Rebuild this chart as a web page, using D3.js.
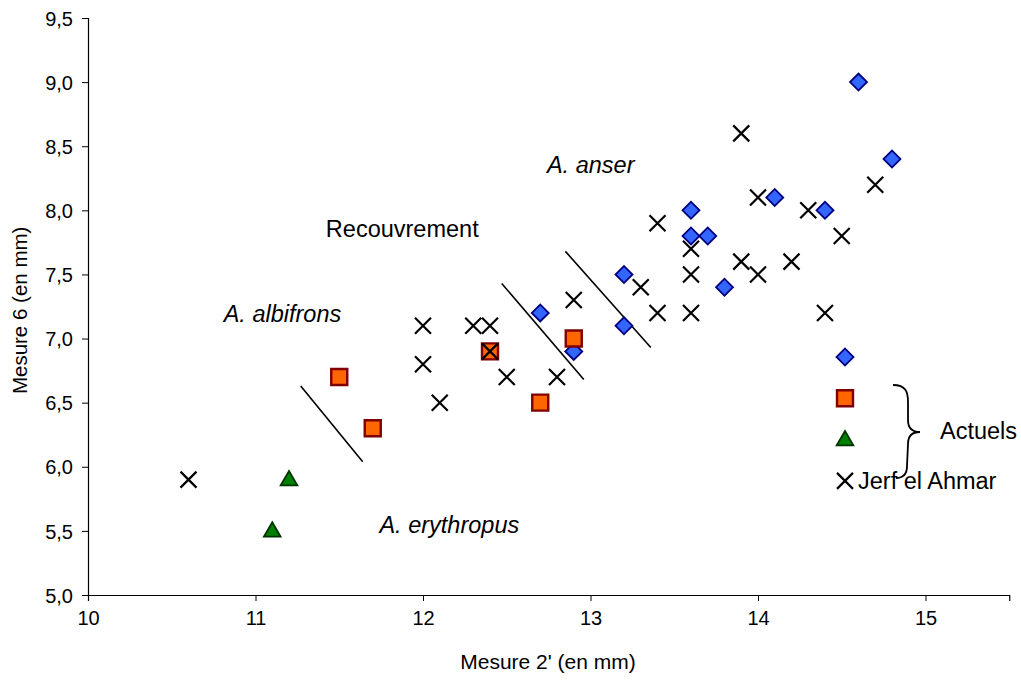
<!DOCTYPE html>
<html>
<head>
<meta charset="utf-8">
<script src="https://cdn.jsdelivr.net/npm/d3@7"></script>
<style>
  body { margin: 0; background: #fff; }
  text { font-family: "Liberation Sans", Arial, sans-serif; }
</style>
</head>
<body>
<div id="chart"></div>
<script>
// Données : A. anser actuels (losanges)
const anser = [
    [12.7, 7.2], [12.9, 6.9], [13.2, 7.5], [13.2, 7.1], [13.6, 8.0],
    [13.6, 7.8], [13.7, 7.8], [13.8, 7.4], [14.1, 8.1], [14.4, 8.0],
    [14.6, 9.0], [14.8, 8.4]
];
// A. albifrons actuels (carrés)
const albifrons = [[11.5, 6.7], [11.7, 6.3], [12.4, 6.9], [12.7, 6.5], [12.9, 7.0]];
// A. erythropus actuels (triangles)
const erythropus = [[11.1, 5.5], [11.2, 5.9]];
// Jerf el Ahmar (croix)
const jerf = [
    [10.6, 5.9], [12.0, 7.1], [12.0, 6.8], [12.1, 6.5], [12.3, 7.1], [12.4, 7.1],
    [12.4, 6.9], [12.5, 6.7], [12.8, 6.7], [12.9, 7.3], [13.3, 7.4], [13.4, 7.9],
    [13.4, 7.2], [13.6, 7.7], [13.6, 7.5], [13.6, 7.2], [13.9, 8.6], [13.9, 7.6],
    [14.0, 8.1], [14.0, 7.5], [14.2, 7.6], [14.3, 8.0], [14.4, 7.2], [14.5, 7.8],
    [14.7, 8.2]
];

// Lignes de séparation (coordonnées en mm)
const separateurs = [
    [[11.27, 6.63], [11.64, 6.04]],
    [[12.47, 7.43], [12.96, 6.68]],
    [[12.85, 7.68], [13.36, 6.93]]
];

// Étiquettes des espèces
const etiquettes = [
    { texte: "A. anser", x: 12.74, y: 8.29, italique: true },
    { texte: "Recouvrement", x: 11.42, y: 7.79, italique: false },
    { texte: "A. albifrons", x: 10.81, y: 7.13, italique: true },
    { texte: "A. erythropus", x: 11.74, y: 5.48, italique: true }
];

const xTicks = [10, 11, 12, 13, 14, 15];
const yTicks = [5.0, 5.5, 6.0, 6.5, 7.0, 7.5, 8.0, 8.5, 9.0, 9.5];

const width = 1021, height = 680;
const margin = { top: 18, right: 12, bottom: 85, left: 88 };

const svg = d3.select("#chart").append("svg")
    .attr("width", width)
    .attr("height", height);

const x = d3.scaleLinear().domain([10, 15.5]).range([margin.left, margin.left + 5.5 * 167.5]);
const y = d3.scaleLinear().domain([5, 9.5]).range([height - margin.bottom, margin.top]);

const fmt = d => d3.format(".1f")(d).replace(".", ",");

// Axes
const xAxis = svg.append("g")
    .attr("transform", `translate(0,${y(5)})`)
    .call(d3.axisBottom(x).tickValues(xTicks).tickSize(6).tickPadding(10).tickFormat(d3.format("d")));
const yAxis = svg.append("g")
    .attr("transform", `translate(${x(10)},0)`)
    .call(d3.axisLeft(y).tickValues(yTicks).tickSize(6).tickPadding(9).tickFormat(fmt));

[xAxis, yAxis].forEach(a => {
    a.select(".domain").attr("stroke", "#000").attr("stroke-width", 1.2);
    a.selectAll(".tick line").attr("stroke", "#000");
    a.selectAll(".tick text")
        .style("font-size", "20px")
        .style("font-family", "'Liberation Sans', Arial, sans-serif")
        .attr("fill", "#000");
});
yAxis.selectAll(".tick text").attr("dy", "0.36em");

// Titres des axes
svg.append("text")
    .attr("x", 548).attr("y", 669)
    .attr("text-anchor", "middle")
    .style("font-size", "21px")
    .text("Mesure 2' (en mm)");

svg.append("text")
    .attr("transform", `translate(27,${y(7.22)}) rotate(-90)`)
    .attr("text-anchor", "middle")
    .style("font-size", "20.5px")
    .text("Mesure 6 (en mm)");

// Lignes de séparation
svg.append("g").selectAll("line")
    .data(separateurs)
    .join("line")
    .attr("x1", d => x(d[0][0])).attr("y1", d => y(d[0][1]))
    .attr("x2", d => x(d[1][0])).attr("y2", d => y(d[1][1]))
    .attr("stroke", "#000")
    .attr("stroke-width", 1.6);

// Symboles
const diamond = d3.symbol().type(d3.symbolSquare).size(144);
const square = d3.symbol().type(d3.symbolSquare).size(256);
const triangle = d3.symbol().type(d3.symbolTriangle).size(120);

function croix(g) {
    g.append("path")
        .attr("d", "M-8,-8L8,8M-8,8L8,-8")
        .attr("stroke", "#000")
        .attr("stroke-width", 2.2)
        .attr("fill", "none");
}

function dessine(data, symbole) {
    const g = svg.append("g").selectAll("g")
        .data(data)
        .join("g")
        .attr("transform", d => `translate(${x(d[0])},${y(d[1])})`);
    symbole(g);
}

function losange(g) {
    g.append("path").attr("d", diamond).attr("transform", "rotate(45)")
        .attr("fill", "#3366ff").attr("stroke", "#000080").attr("stroke-width", 1.8);
}
function carre(g) {
    g.append("path").attr("d", square)
        .attr("fill", "#ff6600").attr("stroke", "#800000").attr("stroke-width", 2.4);
}
function tri(g) {
    g.append("path").attr("d", triangle).attr("transform", "translate(0,1)")
        .attr("fill", "#008000").attr("stroke", "#003300").attr("stroke-width", 1.8);
}

dessine(anser, losange);
dessine(albifrons, carre);
dessine(erythropus, tri);
dessine(jerf, croix);

// Étiquettes
svg.append("g").selectAll("text")
    .data(etiquettes)
    .join("text")
    .attr("x", d => x(d.x))
    .attr("y", d => y(d.y))
    .style("font-size", "23.5px")
    .style("font-style", d => d.italique ? "italic" : "normal")
    .text(d => d.texte);

// Légende
const legende = [losange, carre, tri, croix];
const leg = svg.append("g").attr("transform", "translate(845,357)");
legende.forEach((f, i) => {
    const g = leg.append("g").attr("transform", `translate(0,${i * 41.3})`);
    f(g);
});
leg.append("text")
    .attr("x", 13).attr("y", 3 * 41.3 + 8)
    .style("font-size", "23.5px")
    .text("Jerf el Ahmar");

// Accolade "Actuels"
svg.append("path")
    .attr("d", "M893,385 C906,385 908,392 908,402 L908,420 C908,428 912,432 920,432 C912,432 908,436 908,444 L907,466 C907,475 903,478 896,478")
    .attr("fill", "none")
    .attr("stroke", "#000")
    .attr("stroke-width", 1.8);
svg.append("text")
    .attr("x", 940).attr("y", 439)
    .style("font-size", "23.5px")
    .text("Actuels");
</script>
</body>
</html>
